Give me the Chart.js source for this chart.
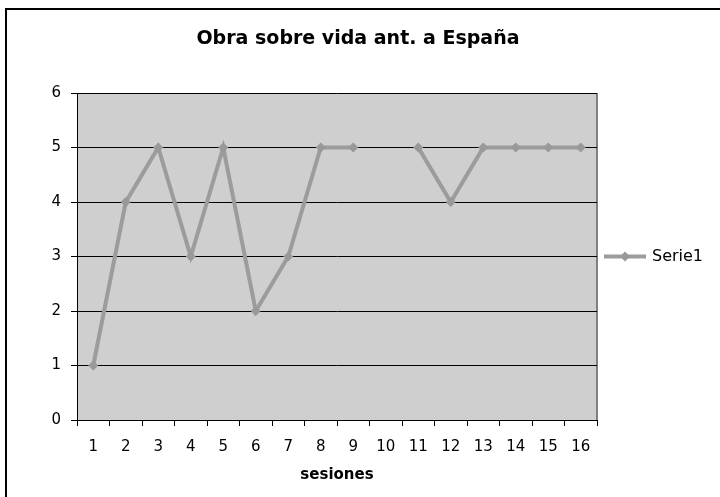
<!DOCTYPE html>
<html>
<head>
<meta charset="utf-8">
<script src="https://cdn.jsdelivr.net/npm/chart.js@4.4.1/dist/chart.umd.min.js"></script>
<style>
  html, body { margin: 0; padding: 0; background: #fff; }
  #wrap { width: 720px; height: 497px; }
</style>
</head>
<body>
<div id="wrap"><canvas id="c" width="720" height="497"></canvas></div>
<script>
var categories = ['1','2','3','4','5','6','7','8','9','10','11','12','13','14','15','16'];
var serie1 = [1, 4, 5, 3, 5, 2, 3, 5, 5, null, 5, 4, 5, 5, 5, 5];
var yTicks = [0, 1, 2, 3, 4, 5, 6];
var chartTitle = 'Obra sobre vida ant. a España';

var FONT = 'Verdana, "DejaVu Sans", sans-serif';
var LINE_COLOR = '#9c9c9c';

// frame, plot background, title and legend (Excel 2003 look)
var excelLook = {
  id: 'excelLook',
  beforeDraw: function (chart) {
    var ctx = chart.ctx, a = chart.chartArea;
    ctx.save();
    ctx.fillStyle = '#fff';
    ctx.fillRect(0, 0, chart.width, chart.height);
    ctx.fillStyle = '#cfcfcf';
    ctx.fillRect(a.left, a.top, a.right - a.left, a.bottom - a.top);
    ctx.strokeStyle = '#808080';
    ctx.lineWidth = 2;
    ctx.beginPath();
    ctx.moveTo(a.right, a.top);
    ctx.lineTo(a.right, a.bottom);
    ctx.stroke();
    ctx.restore();
  },
  afterDraw: function (chart) {
    var ctx = chart.ctx;
    ctx.save();
    // outer frame (cropped at right and bottom)
    ctx.strokeStyle = '#000';
    ctx.lineWidth = 2;
    ctx.beginPath();
    ctx.moveTo(6, chart.height);
    ctx.lineTo(6, 9);
    ctx.lineTo(chart.width, 9);
    ctx.stroke();

    // title
    ctx.fillStyle = '#000';
    ctx.font = 'bold 19px ' + FONT;
    ctx.textAlign = 'center';
    ctx.textBaseline = 'middle';
    ctx.fillText(chartTitle, 358, 39);

    // legend
    var ds = chart.data.datasets[0];
    var ly = chart.scales.y.getPixelForValue(3);
    ctx.strokeStyle = LINE_COLOR;
    ctx.lineWidth = 4;
    ctx.beginPath();
    ctx.moveTo(604, ly);
    ctx.lineTo(646, ly);
    ctx.stroke();
    ctx.fillStyle = '#999';
    ctx.beginPath();
    ctx.moveTo(625, ly - 5);
    ctx.lineTo(630, ly);
    ctx.lineTo(625, ly + 5);
    ctx.lineTo(620, ly);
    ctx.closePath();
    ctx.fill();
    ctx.fillStyle = '#000';
    ctx.font = '16px ' + FONT;
    ctx.textAlign = 'left';
    ctx.fillText(ds.label, 652, ly);
    ctx.restore();
  }
};

new Chart(document.getElementById('c').getContext('2d'), {
  type: 'line',
  data: {
    labels: categories,
    datasets: [{
      label: 'Serie1',
      data: serie1,
      borderColor: LINE_COLOR,
      borderWidth: 4,
      backgroundColor: '#999',
      pointStyle: 'rectRot',
      pointRadius: 5,
      pointBorderWidth: 0,
      pointBackgroundColor: '#999',
      spanGaps: false,
      tension: 0
    }]
  },
  plugins: [excelLook],
  options: {
    responsive: false,
    animation: false,
    layout: { padding: { left: 0, right: 123, top: 93, bottom: 0 } },
    scales: {
      x: {
        type: 'category',
        offset: true,
        grid: { offset: true, drawOnChartArea: false, drawTicks: true, tickLength: 6, color: '#000', lineWidth: 1 },
        border: { color: '#000', width: 1 },
        ticks: { color: '#000', font: { family: FONT, size: 15 }, padding: 12, maxRotation: 0, autoSkip: false },
        title: { display: true, text: 'sesiones', color: '#000', font: { family: FONT, size: 15, weight: 'bold' }, padding: { top: 0, bottom: 13 } },
        afterFit: function (s) { s.height = 77; }
      },
      y: {
        min: 0,
        max: 6,
        afterBuildTicks: function (s) { s.ticks = yTicks.map(function (v) { return { value: v }; }); },
        grid: { color: '#000', lineWidth: 1, tickLength: 6 },
        border: { color: '#000', width: 1 },
        ticks: { color: '#000', font: { family: FONT, size: 15 }, padding: 10 },
        afterFit: function (s) { s.width = 77; }
      }
    },
    plugins: {
      legend: { display: false },
      tooltip: { enabled: false },
      title: { display: false }
    }
  }
});
</script>
</body>
</html>
